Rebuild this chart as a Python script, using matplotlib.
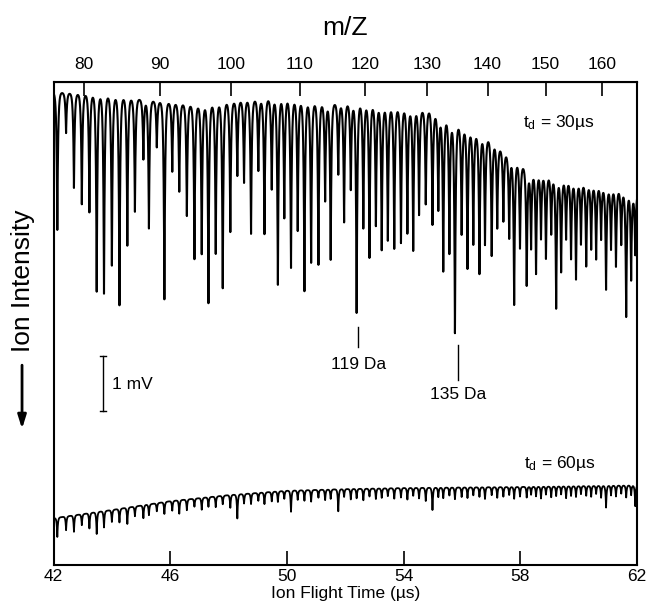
import numpy as np
import matplotlib
matplotlib.use("Agg")
import matplotlib.pyplot as plt

plt.rcParams['font.family'] = ['Liberation Sans', 'DejaVu Sans']
plt.rcParams['mathtext.fontset'] = 'custom'
plt.rcParams['mathtext.rm'] = 'Liberation Sans'
plt.rcParams['mathtext.it'] = 'Liberation Sans'

# upper trace (t_d = 30 us): top envelope, flight time (us) vs signal (mV)
base30_t = [42.0, 43.6, 45.3, 47.0, 48.4, 49.8, 51.1, 52.5, 53.9, 54.9,
            55.9, 57.0, 57.6, 58.3, 59.4, 60.7, 62.0]
base30_v = [8.60, 8.55, 8.45, 8.36, 8.45, 8.49, 8.40, 8.40, 8.31, 8.27,
            8.00, 7.73, 7.45, 7.18, 7.04, 6.91, 6.78]

# dips of the upper trace: position (us) and bottom level (mV)
peak_t = [42.13, 42.43, 42.70, 42.97, 43.23, 43.48, 43.73, 44.00, 44.26, 44.53,
          44.79, 45.08, 45.27, 45.54, 45.80, 46.07, 46.31, 46.57, 46.83, 47.08,
          47.31, 47.56, 47.80, 48.06, 48.30, 48.53, 48.77, 49.02, 49.23, 49.48,
          49.69, 49.91, 50.14, 50.37, 50.60, 50.83, 51.08, 51.31, 51.50, 51.76,
          51.96, 52.19, 52.39, 52.62, 52.83, 53.05, 53.25, 53.46, 53.68, 53.91,
          54.13, 54.33, 54.53, 54.76, 54.99, 55.19, 55.36, 55.57, 55.76, 55.99,
          56.19, 56.39, 56.60, 56.79, 57.02, 57.21, 57.42, 57.62, 57.79, 57.99,
          58.22, 58.37, 58.54, 58.71, 58.88, 59.06, 59.23, 59.40, 59.57, 59.74,
          59.91, 60.08, 60.26, 60.43, 60.60, 60.77, 60.94, 61.11, 61.28, 61.46,
          61.63, 61.80, 61.94]
peak_v = [6.09, 7.85, 6.85, 6.55, 6.40, 4.95, 4.91, 5.42, 4.69, 5.78,
          6.40, 7.36, 6.09, 7.58, 4.78, 7.13, 6.76, 6.31, 5.51, 5.60,
          4.69, 5.60, 4.96, 6.00, 7.04, 6.91, 5.96, 7.13, 5.95, 6.78,
          5.00, 6.24, 5.31, 6.00, 4.87, 5.40, 5.36, 6.55, 5.45, 7.05,
          6.15, 6.76, 4.45, 6.04, 5.49, 6.09, 5.64, 5.82, 5.67, 5.78,
          5.96, 5.64, 6.31, 6.51, 6.13, 6.40, 5.27, 5.60, 4.13, 5.96,
          5.33, 5.78, 5.24, 5.78, 5.58, 6.09, 6.22, 5.91, 4.69, 5.73,
          5.05, 5.73, 5.27, 5.91, 5.55, 6.00, 4.64, 5.31, 5.91, 5.55,
          5.18, 5.82, 5.42, 5.73, 5.55, 5.91, 5.00, 5.73, 5.42, 5.82,
          4.51, 5.18, 5.64]

# lower trace (t_d = 60 us): top envelope and dip depths at the same positions
base60_t = [42.0, 44.0, 46.0, 48.0, 50.0, 52.0, 54.0, 58.0, 62.0]
base60_v = [0.85, 1.00, 1.16, 1.27, 1.35, 1.38, 1.40, 1.42, 1.45]
dip60 = [0.35, 0.25, 0.30, 0.20, 0.28, 0.40, 0.30, 0.22, 0.25, 0.30,
         0.18, 0.24, 0.20, 0.15, 0.22, 0.18, 0.25, 0.20, 0.15, 0.22,
         0.18, 0.20, 0.16, 0.24, 0.45, 0.18, 0.20, 0.15, 0.22, 0.18,
         0.20, 0.15, 0.40, 0.18, 0.20, 0.22, 0.15, 0.20, 0.18, 0.42,
         0.15, 0.20, 0.18, 0.22, 0.15, 0.20, 0.18, 0.15, 0.20, 0.18,
         0.22, 0.15, 0.20, 0.25, 0.42, 0.18, 0.20, 0.15, 0.22, 0.18,
         0.20, 0.15, 0.18, 0.22, 0.15, 0.20, 0.18, 0.15, 0.22, 0.18,
         0.20, 0.15, 0.18, 0.22, 0.15, 0.20, 0.18, 0.15, 0.22, 0.18,
         0.20, 0.15, 0.18, 0.20, 0.15, 0.22, 0.40, 0.18, 0.20, 0.15,
         0.22, 0.18, 0.38]

# m/Z calibration: t = cal_a * sqrt(m) + cal_b
cal_a, cal_b = 4.79, 0.2
mz_ticks = [80, 90, 100, 110, 120, 130, 140, 150, 160]
time_ticks = [42, 46, 50, 54, 58, 62]
marked_mass = [119, 135]


def m_to_t(m):
    return cal_a * np.sqrt(np.clip(m, 0, None)) + cal_b


def t_to_m(t):
    return ((np.asarray(t) - cal_b) / cal_a) ** 2


# sharp cusp-shaped dips, like the recorded spectrum
t = np.linspace(42, 62, 10000)
y30 = np.interp(t, base30_t, base30_v)
for tp, vp in zip(peak_t, peak_v):
    depth = np.interp(tp, base30_t, base30_v) - vp
    y30 = y30 - depth * np.exp(-np.abs(t - tp) / 0.028)

y60 = np.interp(t, base60_t, base60_v)
for tp, d in zip(peak_t, dip60):
    y60 = y60 - d * np.exp(-np.abs(t - tp) / 0.02)

fig = plt.figure(figsize=(6.48, 6.02), dpi=100)
ax = fig.add_axes([0.0826, 0.0615, 0.9004, 0.8023])
ax.plot(t, y30, color='black', lw=1.5)
ax.plot(t, y60, color='black', lw=1.3)

ax.set_xlim(42, 62)
ax.set_ylim(0, 8.78)
ax.set_xticks(time_ticks)
ax.set_yticks([])
ax.tick_params(axis='x', direction='in', length=10, width=1.2, labelsize=12.5, pad=3)
for s in ax.spines.values():
    s.set_linewidth(1.5)
ax.set_xlabel('Ion Flight Time (µs)', fontsize=12.5, labelpad=1)

top = ax.secondary_xaxis('top', functions=(t_to_m, m_to_t))
top.set_xticks(mz_ticks)
top.tick_params(direction='in', length=10, width=1.2, labelsize=12.5, pad=7)
top.set_xlabel('m/Z', fontsize=19, labelpad=16)

# annotations
ax.text(58.09, 8.04, r't$_{\mathrm{d}}$ = 30µs', fontsize=12.5, ha='left', va='center')
ax.text(58.13, 1.85, r't$_{\mathrm{d}}$ = 60µs', fontsize=12.5, ha='left', va='center')

for m, y_top, y_bot, y_lab in zip(marked_mass, [4.33, 4.00], [3.96, 3.36], [3.64, 3.09]):
    tm = m_to_t(m)
    ax.plot([tm, tm], [y_top, y_bot], color='black', lw=1.0)
    ax.text(tm, y_lab, f'{m} Da', fontsize=12.5, ha='center', va='center')

# 1 mV scale bar
ax.plot([43.70, 43.70], [2.80, 3.80], color='black', lw=1.0)
ax.plot([43.60, 43.80], [2.80, 2.80], color='black', lw=1.0)
ax.plot([43.60, 43.80], [3.80, 3.80], color='black', lw=1.0)
ax.text(44.0, 3.28, '1 mV', fontsize=12.5, ha='left', va='center')

# y label with downward arrow
fig.text(0.036, 0.533, 'Ion Intensity', rotation=90, fontsize=19, ha='center', va='center')
ax.annotate('', xy=(0.034, 0.283), xytext=(0.034, 0.398), xycoords='figure fraction',
            textcoords='figure fraction',
            arrowprops=dict(arrowstyle='-|>,head_length=0.8,head_width=0.25', color='black', lw=2))

fig.savefig('out.png', dpi=100)
